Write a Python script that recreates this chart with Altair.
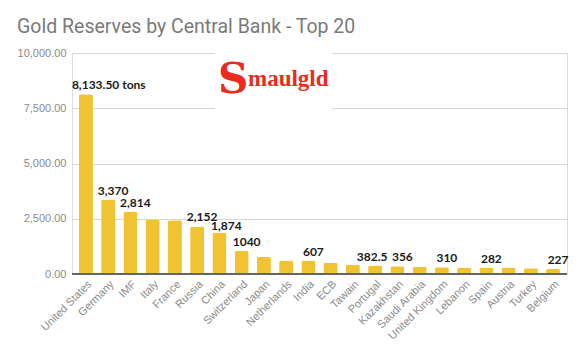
import altair as alt
import pandas as pd

countries = ["United States", "Germany", "IMF", "Italy", "France", "Russia", "China",
             "Switzerland", "Japan", "Netherlands", "India", "ECB", "Tawain", "Portugal",
             "Kazakhstan", "Saudi Arabia", "United Kingdom", "Lebanon", "Spain", "Austria",
             "Turkey", "Belgium"]
tons = [8133.5, 3370, 2814, 2452, 2436, 2152, 1874, 1040, 765, 612, 607, 505, 424,
        382.5, 356, 323, 310, 287, 282, 280, 262, 227]
labels = ["8,133.50 tons", "3,370", "2,814", "", "", "2,152", "1,874", "1040", "", "",
          "607", "", "", "382.5", "356", "", "310", "", "282", "", "", "227"]
y_ticks = [0, 2500, 5000, 7500, 10000]

df = pd.DataFrame({"country": countries, "tons": tons, "label": labels})

x = alt.X("country:N", sort=countries, title=None,
          scale=alt.Scale(paddingInner=0.37, paddingOuter=0.31),
          axis=alt.Axis(labelAngle=-45, labelColor="#8a8a8a", labelFont="Liberation Sans",
                        labelFontSize=11, ticks=False, domain=False, labelPadding=4))
y = alt.Y("tons:Q", title=None,
          scale=alt.Scale(domain=[0, 10000], nice=False),
          axis=alt.Axis(values=y_ticks, format=",.2f", labelColor="#8a8a8a",
                        labelFont="Liberation Sans", labelFontSize=11, ticks=False,
                        domain=False, gridColor="#d6d6d6", labelPadding=6))

xs = alt.X("country:N", sort=countries)
base = alt.Chart(df)

bars = base.mark_bar(color="#F1C232", cornerRadiusTopLeft=2, cornerRadiusTopRight=2).encode(x=x, y=y)

zero = base.mark_rule(color="#666666", strokeWidth=1.5).encode(y=alt.datum(0))

txt = dict(font="Lato", fontWeight="bold", fontSize=12, color="#1a1a1a", baseline="alphabetic")

lbl = base.transform_filter(
    "datum.label != '' && datum.country != 'United States' && datum.country != 'Portugal' && datum.country != 'China'"
).mark_text(dx=5, dy=-5, **txt).encode(x=xs, y="tons:Q", text="label:N")

lbl_cn = base.transform_filter("datum.country == 'China'").mark_text(
    dx=7, dy=-3, **txt).encode(x=xs, y="tons:Q", text="label:N")

lbl_pt = base.transform_filter("datum.country == 'Portugal'").mark_text(
    dx=-3, dy=-5, **txt).encode(x=xs, y="tons:Q", text="label:N")

lbl_us = base.transform_filter("datum.country == 'United States'").mark_text(
    align="left", dx=-14, dy=-5, **txt).encode(x=xs, y="tons:Q", text="label:N")

one = base.transform_filter("datum.country == 'United States'")
logo_bg = one.mark_rect(color="white").encode(
    x=alt.value(143), x2=alt.value(260), y=alt.value(-4), y2=alt.value(60))
logo_s = one.mark_text(
    text="S", font="DejaVu Serif", fontWeight="bold", fontSize=42, color="#EC2A1E",
    align="left", baseline="alphabetic").encode(x=alt.value(146), y=alt.value(40))
logo_rest = one.mark_text(
    text="maulgld", font="Liberation Serif", fontWeight="bold", fontSize=23,
    color="#EC2A1E", align="left", baseline="alphabetic").encode(x=alt.value(176), y=alt.value(33))

chart = alt.layer(bars, zero, lbl, lbl_cn, lbl_pt, lbl_us, logo_bg, logo_s, logo_rest).properties(
    width=495, height=221,
    title=alt.TitleParams("Gold Reserves by Central Bank - Top 20", anchor="start",
                          offset=10, font="Roboto", fontSize=19.5,
                          fontWeight="normal", color="#7a7a7a"),
    autosize=alt.AutoSizeParams(type="none"),
    padding={"left": 72, "top": 53, "right": 13, "bottom": 80},
).configure_view(stroke=None).configure(background="white")

chart.save("out.html", embed_options={"renderer": "svg", "actions": False})
